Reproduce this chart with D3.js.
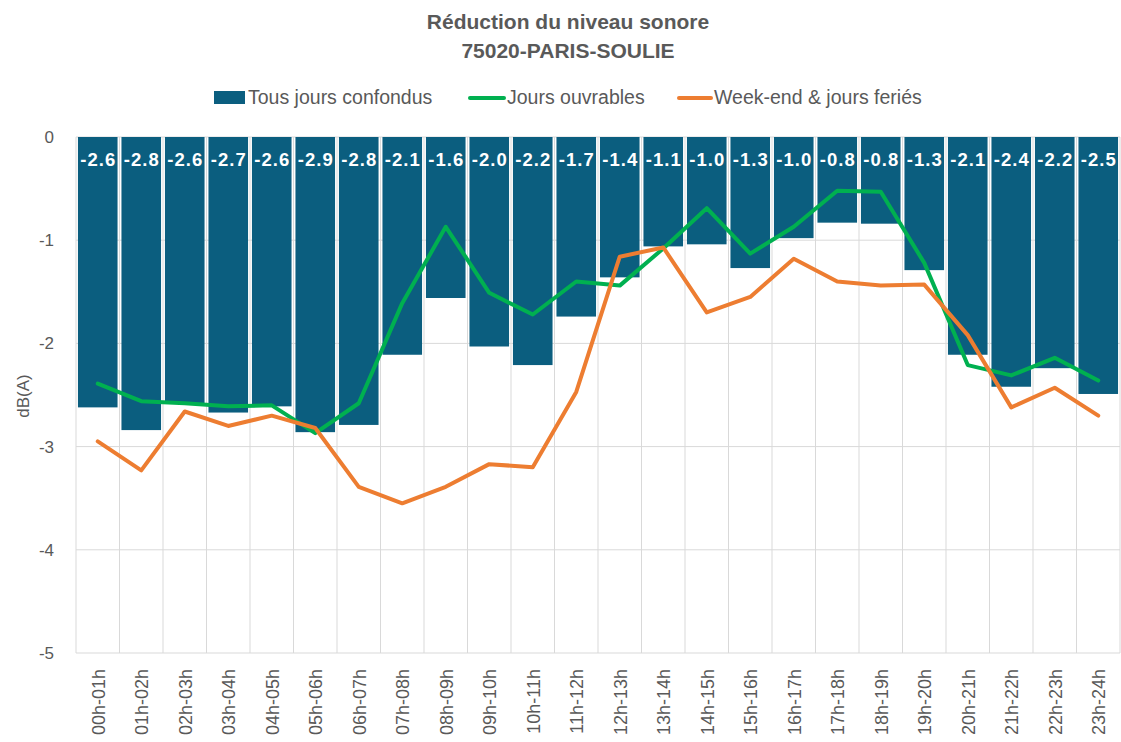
<!DOCTYPE html>
<html>
<head>
<meta charset="utf-8">
<script src="https://cdn.jsdelivr.net/npm/d3@7"></script>
<style>
  body { margin: 0; background: #fff; }
  svg { display: block; }
</style>
</head>
<body>
<div id="chart"></div>
<script>
// hours
var hours = ["00h-01h","01h-02h","02h-03h","03h-04h","04h-05h","05h-06h","06h-07h","07h-08h",
  "08h-09h","09h-10h","10h-11h","11h-12h","12h-13h","13h-14h","14h-15h","15h-16h",
  "16h-17h","17h-18h","18h-19h","19h-20h","20h-21h","21h-22h","22h-23h","23h-24h"];

// Tous jours confondus (bars)
var tousJours = [-2.62,-2.84,-2.58,-2.67,-2.61,-2.86,-2.79,-2.11,-1.56,-2.03,-2.21,-1.74,
  -1.36,-1.06,-1.04,-1.27,-0.98,-0.83,-0.84,-1.29,-2.11,-2.42,-2.24,-2.49];

// Jours ouvrables (green)
var ouvrables = [-2.39,-2.56,-2.58,-2.61,-2.60,-2.87,-2.58,-1.61,-0.87,-1.51,-1.72,-1.40,
  -1.44,-1.08,-0.69,-1.13,-0.87,-0.52,-0.53,-1.22,-2.21,-2.31,-2.14,-2.36];

// Week-end & jours feriés (orange)
var weekend = [-2.95,-3.23,-2.66,-2.80,-2.70,-2.82,-3.39,-3.55,-3.39,-3.17,-3.20,-2.47,
  -1.16,-1.07,-1.70,-1.55,-1.18,-1.40,-1.44,-1.43,-1.92,-2.62,-2.43,-2.70];

var yTicks = [0,-1,-2,-3,-4,-5];

(function() {
"use strict";

var W = 1121, H = 742;
var mLeft = 76, mRight = 1120, mTop = 137, mBottom = 653;

var svg = d3.select("#chart").append("svg")
  .attr("width", W).attr("height", H);

var x = d3.scaleBand().domain(hours).range([mLeft, mRight]).paddingInner(0.09).paddingOuter(0.045);
var xc = function(d) { return x(d) + x.bandwidth() / 2; };
var y = d3.scaleLinear().domain([-5, 0]).range([mBottom, mTop]);

var grey = "#d9d9d9", txt = "#595959";
var font = "Liberation Sans, Arial, sans-serif";

// horizontal gridlines
svg.append("g").selectAll("line").data(yTicks).enter().append("line")
  .attr("x1", mLeft).attr("x2", mRight)
  .attr("y1", function(d){ return y(d); }).attr("y2", function(d){ return y(d); })
  .attr("stroke", grey).attr("stroke-width", 1);

// vertical gridlines (category boundaries)
var step = (mRight - mLeft) / hours.length;
svg.append("g").selectAll("line").data(d3.range(hours.length + 1)).enter().append("line")
  .attr("x1", function(i){ return mLeft + i * step; })
  .attr("x2", function(i){ return mLeft + i * step; })
  .attr("y1", mTop).attr("y2", mBottom)
  .attr("stroke", grey).attr("stroke-width", 1);

// y axis labels
svg.append("g").selectAll("text").data(yTicks).enter().append("text")
  .attr("x", 54).attr("y", function(d){ return y(d) + 6; })
  .attr("text-anchor", "end")
  .attr("font-family", font).attr("font-size", 17)
  .attr("fill", txt)
  .text(function(d){ return d; });

svg.append("text")
  .attr("transform", "translate(29,396) rotate(-90)")
  .attr("text-anchor", "middle")
  .attr("font-family", font).attr("font-size", 17)
  .attr("fill", txt).text("dB(A)");

// bars
svg.append("g").selectAll("rect").data(tousJours).enter().append("rect")
  .attr("x", function(d, i){ return x(hours[i]); })
  .attr("y", y(0))
  .attr("width", x.bandwidth())
  .attr("height", function(d){ return y(d) - y(0); })
  .attr("fill", "#0b5e7f");

// data labels
svg.append("g").selectAll("text").data(tousJours).enter().append("text")
  .attr("x", function(d, i){ return xc(hours[i]) + 0.6; })
  .attr("y", 166)
  .attr("text-anchor", "middle")
  .attr("font-family", font).attr("font-weight", "bold")
  .attr("font-size", 18.5).attr("letter-spacing", 1.1).attr("fill", "#fff")
  .text(function(d){ return d.toFixed(1); });

// lines
var line = d3.line()
  .x(function(d, i){ return xc(hours[i]); })
  .y(function(d){ return y(d); });

svg.append("path").datum(ouvrables).attr("d", line)
  .attr("fill", "none").attr("stroke", "#00b050").attr("stroke-width", 4)
  .attr("stroke-linejoin", "round").attr("stroke-linecap", "round");

svg.append("path").datum(weekend).attr("d", line)
  .attr("fill", "none").attr("stroke", "#ed7d31").attr("stroke-width", 4)
  .attr("stroke-linejoin", "round").attr("stroke-linecap", "round");

// x labels
svg.append("g").selectAll("text").data(hours).enter().append("text")
  .attr("transform", function(d){ return "translate(" + (xc(d) + 7) + "," + (mBottom + 16) + ") rotate(-90)"; })
  .attr("text-anchor", "end")
  .attr("font-family", font).attr("font-size", 18)
  .attr("fill", txt)
  .text(function(d){ return d; });

// title
svg.append("text").attr("x", 568).attr("y", 29).attr("text-anchor", "middle")
  .attr("font-family", font).attr("font-weight", "bold")
  .attr("font-size", 21).attr("fill", txt).text("Réduction du niveau sonore");
svg.append("text").attr("x", 568).attr("y", 58).attr("text-anchor", "middle")
  .attr("font-family", font).attr("font-weight", "bold")
  .attr("font-size", 21).attr("fill", txt).text("75020-PARIS-SOULIE");

// legend
var lg = svg.append("g");
lg.append("rect").attr("x", 214).attr("y", 91).attr("width", 31).attr("height", 13).attr("fill", "#0b5e7f");
lg.append("text").attr("x", 248).attr("y", 104).attr("font-family", font).attr("font-size", 19.5)
  .attr("fill", txt).text("Tous jours confondus");
lg.append("line").attr("x1", 470).attr("x2", 504).attr("y1", 98).attr("y2", 98)
  .attr("stroke", "#00b050").attr("stroke-width", 4).attr("stroke-linecap", "round");
lg.append("text").attr("x", 507).attr("y", 104).attr("font-family", font).attr("font-size", 19.5)
  .attr("fill", txt).text("Jours ouvrables");
lg.append("line").attr("x1", 679).attr("x2", 711).attr("y1", 98).attr("y2", 98)
  .attr("stroke", "#ed7d31").attr("stroke-width", 4).attr("stroke-linecap", "round");
lg.append("text").attr("x", 714).attr("y", 104).attr("font-family", font).attr("font-size", 19.5)
  .attr("fill", txt).text("Week-end & jours feriés");

})();
</script>
</body>
</html>
